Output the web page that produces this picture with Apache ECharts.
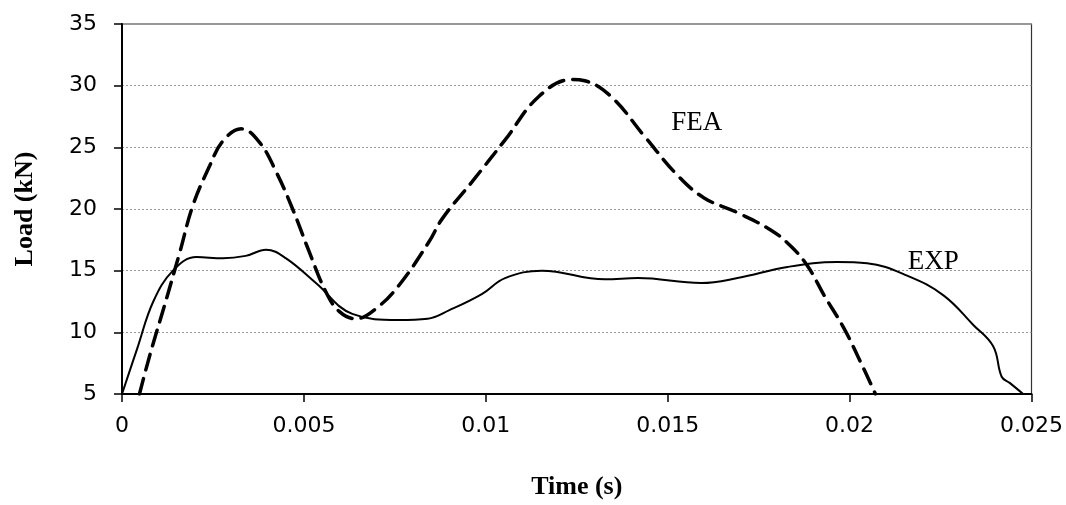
<!DOCTYPE html>
<html>
<head>
<meta charset="utf-8">
<script src="https://cdn.jsdelivr.net/npm/echarts@6/dist/echarts.min.js"></script>
<style>
  html, body { margin: 0; padding: 0; background: #fff; }
  #chart { width: 1066px; height: 505px; }
</style>
</head>
<body>
<div id="chart"></div>
<script>
// EXP curve (measured)
var expTime = [0, 0.00042, 0.00086, 0.0014, 0.00205, 0.00277, 0.0034, 0.00396, 0.00451, 0.00533,
  0.00633, 0.0076, 0.0084, 0.009, 0.00989, 0.01053, 0.01154, 0.01327, 0.01418, 0.01592,
  0.01692, 0.01829, 0.01966, 0.02048, 0.02158, 0.02258, 0.0234, 0.02395, 0.02418, 0.0244, 0.02477];
var expLoad = [5, 8.7, 12.5, 15.0, 16.1, 16.0, 16.2, 16.7, 16.0, 14.0,
  11.5, 11.0, 11.1, 11.8, 13.1, 14.4, 15.0, 14.3, 14.4, 14.0,
  14.4, 15.3, 15.7, 15.6, 14.6, 13.0, 10.6, 8.85, 6.4, 5.9, 5.0];

// FEA curve (simulation)
var feaTime = [0.00048, 0.00077, 0.00122, 0.00159, 0.00195, 0.00241, 0.00277, 0.00328, 0.00378, 0.00424,
  0.00469, 0.00515, 0.0056, 0.00597, 0.00643, 0.00697, 0.00761, 0.00843, 0.0088, 0.00962,
  0.01053, 0.01145, 0.01236, 0.01272, 0.01345, 0.01436, 0.01528, 0.016, 0.01692, 0.01783,
  0.01838, 0.01884, 0.0193, 0.01985, 0.0203, 0.02071];
var feaLoad = [5.0, 8.2, 12.7, 16.5, 20.3, 23.5, 25.5, 26.5, 25.4, 23.0,
  20.0, 16.5, 13.3, 11.7, 11.1, 11.9, 13.8, 17.3, 19.2, 22.2,
  25.6, 29.1, 30.5, 30.4, 29.1, 25.9, 22.7, 20.9, 19.7, 18.3,
  17.0, 15.4, 13.0, 10.3, 7.6, 5.0];

var xTicks = [0, 0.005, 0.01, 0.015, 0.02, 0.025];
var yTicks = [5, 10, 15, 20, 25, 30, 35];

// label anchors (time, load)
var feaLabelAt = [0.0158, 27.0];
var expLabelAt = [0.0223, 15.7];

function zip(a, b) {
  var out = [];
  for (var i = 0; i < a.length; i++) out.push([a[i], b[i]]);
  return out;
}

var tickFont = { fontFamily: 'DejaVu Sans', fontSize: 22, color: '#000' };
var serif = 'Liberation Serif';

var chart = echarts.init(document.getElementById('chart'), null, { renderer: 'canvas' });

chart.setOption({
  animation: false,
  backgroundColor: '#fff',
  grid: {
    left: 122, right: 31, top: 24, bottom: 109,
    show: true, borderColor: '#333', borderWidth: 1.2
  },
  xAxis: {
    type: 'value',
    min: xTicks[0], max: xTicks[xTicks.length - 1], interval: 0.005,
    name: 'Time (s)', nameLocation: 'middle', nameGap: 80,
    nameTextStyle: { fontFamily: serif, fontWeight: 'bold', fontSize: 26, color: '#000' },
    axisLine: { onZero: false, lineStyle: { color: '#000', width: 2 } },
    axisTick: { show: true, inside: false, length: 8, lineStyle: { color: '#000', width: 1.5 } },
    axisLabel: Object.assign({ margin: 21, formatter: function (v) { return String(parseFloat(v.toFixed(3))); } }, tickFont),
    splitLine: { show: false }
  },
  yAxis: {
    type: 'value',
    min: yTicks[0], max: yTicks[yTicks.length - 1], interval: 5,
    name: 'Load (kN)', nameLocation: 'middle', nameGap: 84, nameRotate: 90,
    nameTextStyle: { fontFamily: serif, fontWeight: 'bold', fontSize: 26, color: '#000' },
    axisLine: { show: true, lineStyle: { color: '#000', width: 2 } },
    axisTick: { show: true, inside: false, length: 8, lineStyle: { color: '#000', width: 1.5 } },
    axisLabel: Object.assign({ margin: 25 }, tickFont),
    splitLine: { show: true, lineStyle: { color: '#999', width: 1, type: [2, 2] } }
  },
  series: [
    {
      name: 'EXP',
      type: 'line',
      data: zip(expTime, expLoad),
      showSymbol: false,
      smooth: 0.4,
      lineStyle: { color: '#000', width: 2 },
      markPoint: {
        symbol: 'circle', symbolSize: 0,
        label: { show: true, position: 'inside', formatter: 'EXP', fontFamily: serif, fontSize: 27, color: '#000' },
        data: [{ coord: expLabelAt }]
      }
    },
    {
      name: 'FEA',
      type: 'line',
      data: zip(feaTime, feaLoad),
      showSymbol: false,
      smooth: 0.4,
      lineStyle: { color: '#000', width: 3.5, type: [16, 9], cap: 'round' },
      markPoint: {
        symbol: 'circle', symbolSize: 0,
        label: { show: true, position: 'inside', formatter: 'FEA', fontFamily: serif, fontSize: 27, color: '#000' },
        data: [{ coord: feaLabelAt }]
      }
    }
  ]
});
</script>
</body>
</html>
